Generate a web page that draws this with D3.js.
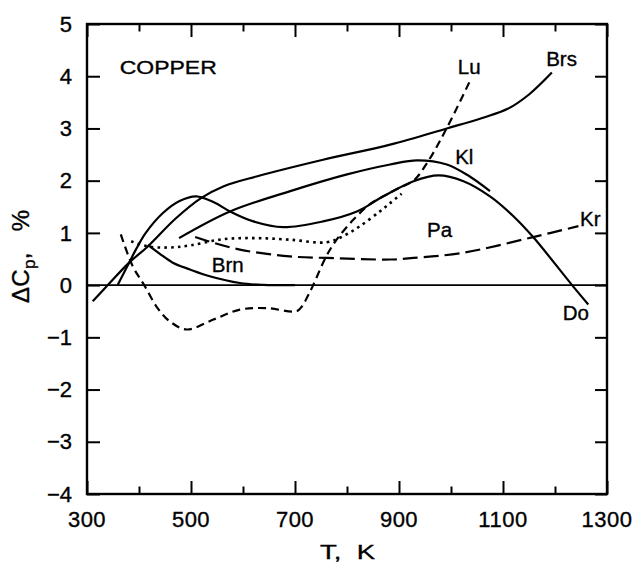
<!DOCTYPE html>
<html>
<head>
<meta charset="utf-8">
<script src="https://cdn.jsdelivr.net/npm/d3@7"></script>
<style>
  html, body { margin: 0; padding: 0; background: #fff; }
  svg { display: block; }
  text { font-family: "Liberation Sans", Arial, Helvetica, sans-serif; fill: #000; stroke: #000; stroke-width: 0.35px; }
</style>
</head>
<body>
<svg id="chart" width="634" height="572"></svg>
<script>
// Deviation of copper heat capacity from reference data, % (by source)
const T_Brs   = [311, 340, 381, 417, 470, 520, 562, 626, 754, 883, 992, 1060, 1110, 1150, 1194];
const dCp_Brs = [-0.31, 0, 0.43, 0.74, 1.27, 1.67, 1.89, 2.08, 2.40, 2.69, 3.00, 3.20, 3.38, 3.65, 4.07];

const T_Do   = [359, 381, 394, 413, 446, 478, 510, 545, 575, 620, 677, 754, 819, 870, 928, 976, 1024, 1075, 1120, 1158, 1232, 1264];
const dCp_Do = [0, 0.43, 0.68, 1.00, 1.38, 1.61, 1.70, 1.58, 1.41, 1.22, 1.11, 1.22, 1.41, 1.70, 1.99, 2.10, 1.99, 1.70, 1.32, 0.92, 0.01, -0.37];

const T_Kl   = [477, 575, 691, 800, 883, 935, 992, 1036, 1075];
const dCp_Kl = [0.90, 1.41, 1.80, 2.12, 2.31, 2.39, 2.31, 2.08, 1.80];

const T_Pa   = [385, 417, 458, 498, 562, 626, 690, 761, 793, 825, 863, 883, 905];
const dCp_Pa = [0.84, 0.74, 0.72, 0.76, 0.88, 0.90, 0.87, 0.82, 0.94, 1.13, 1.41, 1.57, 1.75];

const T_Brn   = [417, 440, 465, 498, 536, 594, 640, 700];
const dCp_Brn = [0.77, 0.60, 0.43, 0.30, 0.17, 0.04, 0.005, 0];

const T_Kr   = [508, 530, 594, 690, 761, 883, 928, 1024, 1158, 1245];
const dCp_Kr = [0.92, 0.85, 0.68, 0.55, 0.52, 0.49, 0.52, 0.62, 0.92, 1.13];

const T_Lu   = [365, 388, 410, 435, 460, 492, 543, 594, 645, 703, 714, 724, 735, 760, 780, 812, 844, 870, 900, 928, 956, 992, 1036];
const dCp_Lu = [0.97, 0.36, 0, -0.43, -0.70, -0.85, -0.66, -0.47, -0.44, -0.50, -0.40, -0.22, 0, 0.55, 0.87, 1.25, 1.55, 1.70, 1.86, 2.00, 2.37, 3.01, 3.90];

const xMajorTicks = [300, 500, 700, 900, 1100, 1300];
const xMinorTicks = [400, 600, 800, 1000, 1200];
const yTicks = [-4, -3, -2, -1, 0, 1, 2, 3, 4, 5];

const seriesNames = ["Brs", "Do", "Kl", "Pa", "Brn", "Kr", "Lu"];

const svg = d3.select("#chart");
const x = d3.scaleLinear().domain([300, 1300]).range([87, 607]);
const y = d3.scaleLinear().domain([-4, 5]).range([494, 24]);

const fmt = v => v < 0 ? "\u2212" + Math.abs(v) : String(v);

// zero reference line
svg.append("line")
  .attr("x1", x(300)).attr("x2", x(1300))
  .attr("y1", y(0)).attr("y2", y(0))
  .attr("stroke", "#000").attr("stroke-width", 1.7);

// axes with inward ticks on all four sides
const major = 13, minor = 7.5;
svg.append("g").attr("transform", `translate(0,${y(-4)})`)
  .call(d3.axisBottom(x).tickValues(xMajorTicks).tickSizeInner(-major).tickSizeOuter(0).tickFormat(""));
svg.append("g").attr("transform", `translate(0,${y(-4)})`)
  .call(d3.axisBottom(x).tickValues(xMinorTicks).tickSizeInner(-minor).tickSizeOuter(0).tickFormat(""));
svg.append("g").attr("transform", `translate(0,${y(5)})`)
  .call(d3.axisTop(x).tickValues(xMajorTicks).tickSizeInner(-major).tickSizeOuter(0).tickFormat(""));
svg.append("g").attr("transform", `translate(0,${y(5)})`)
  .call(d3.axisTop(x).tickValues(xMinorTicks).tickSizeInner(-minor).tickSizeOuter(0).tickFormat(""));
svg.append("g").attr("transform", `translate(${x(300)},0)`)
  .call(d3.axisLeft(y).tickValues(yTicks).tickSizeInner(-major).tickSizeOuter(0).tickFormat(""));
svg.append("g").attr("transform", `translate(${x(1300)},0)`)
  .call(d3.axisRight(y).tickValues(yTicks).tickSizeInner(-12).tickSizeOuter(0).tickFormat(""));
svg.selectAll(".domain").remove();
svg.selectAll(".tick line").attr("stroke", "#000").attr("stroke-width", 2);

// frame
svg.append("rect")
  .attr("x", x(300)).attr("y", y(5))
  .attr("width", x(1300) - x(300)).attr("height", y(-4) - y(5))
  .attr("fill", "none").attr("stroke", "#000").attr("stroke-width", 2.4);

// tick labels
svg.append("g").selectAll("text").data(xMajorTicks).join("text")
  .attr("x", d => x(d)).attr("y", 527)
  .attr("text-anchor", "middle")
  .attr("font-size", 22).attr("letter-spacing", 0.5)
  .text(d => d);
svg.append("g").selectAll("text").data(yTicks).join("text")
  .attr("x", 72).attr("y", d => y(d)).attr("dy", "0.35em")
  .attr("text-anchor", "end")
  .attr("font-size", 22)
  .text(fmt);

// axis titles
svg.append("text")
  .attr("x", 320).attr("y", 559)
  .attr("font-size", 20)
  .attr("textLength", 55).attr("lengthAdjust", "spacingAndGlyphs")
  .style("white-space", "pre")
  .text("T,  K");

const yTitle = svg.append("text")
  .attr("transform", "translate(29,303) rotate(-90)")
  .attr("font-size", 24)
  .attr("textLength", 93).attr("lengthAdjust", "spacing")
  .style("white-space", "pre");
yTitle.append("tspan").text("\u0394C");
yTitle.append("tspan").attr("font-size", 17).attr("dy", 6).text("p");
yTitle.append("tspan").attr("dy", -6).text(",   %");

// curves
const line = d3.line()
  .x(d => x(d[0])).y(d => y(d[1]))
  .curve(d3.curveCatmullRom.alpha(0.5));

const styles = {
  Brs: { T: T_Brs, v: dCp_Brs, dash: null },
  Do:  { T: T_Do,  v: dCp_Do,  dash: null },
  Kl:  { T: T_Kl,  v: dCp_Kl,  dash: null },
  Pa:  { T: T_Pa,  v: dCp_Pa,  dash: "2.6,4.2" },
  Brn: { T: T_Brn, v: dCp_Brn, dash: null },
  Kr:  { T: T_Kr,  v: dCp_Kr,  dash: "15,6" },
  Lu:  { T: T_Lu,  v: dCp_Lu,  dash: "8,5" }
};

seriesNames.forEach(name => {
  const s = styles[name];
  const pts = s.T.map((t, i) => [t, s.v[i]]);
  svg.append("path")
    .attr("d", line(pts))
    .attr("fill", "none")
    .attr("stroke", "#000")
    .attr("stroke-width", name === "Pa" ? 2.6 : 2.2)
    .attr("stroke-dasharray", s.dash)
    .attr("stroke-linecap", "butt");
});

// curve labels, anchored in data coordinates
const labelText = ["Lu", "Brs", "Kl", "Pa", "Kr", "Do", "Brn"];
const labelT    = [1013, 1183, 1008, 954, 1248, 1215, 540];
const labelV    = [4.05, 4.20, 2.31, 0.93, 1.14, -0.67, 0.26];
svg.append("g").selectAll("text").data(labelText).join("text")
  .attr("x", (d, i) => x(labelT[i]))
  .attr("y", (d, i) => y(labelV[i]))
  .attr("font-size", 20.5)
  .text(d => d);

svg.append("text")
  .attr("x", x(363)).attr("y", y(4.05))
  .attr("font-size", 19)
  .attr("textLength", 97).attr("lengthAdjust", "spacingAndGlyphs")
  .text("COPPER");
</script>
</body>
</html>
